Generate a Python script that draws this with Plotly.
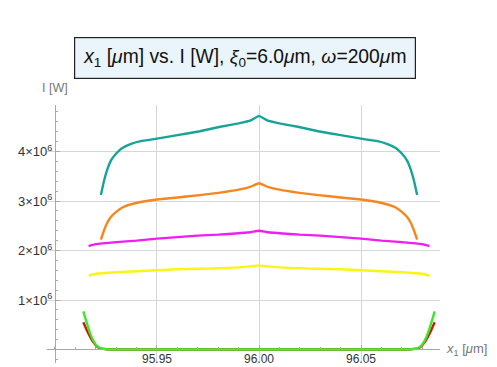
import plotly.graph_objects as go

# ---- data ----
teal_x = [95.9225, 95.9240, 95.9255, 95.9275, 95.9300, 95.9330, 95.9370, 95.9420, 95.9500, 95.9600,
          95.9710, 95.9810, 95.9900, 95.9960, 96.0000, 96.0040, 96.0100, 96.0190, 96.0290, 96.0400,
          96.0500, 96.0580, 96.0630, 96.0670, 96.0700, 96.0725, 96.0745, 96.0760, 96.0775]
teal_y = [3.12, 3.40, 3.62, 3.82, 3.96, 4.07, 4.15, 4.21, 4.26, 4.33,
          4.41, 4.50, 4.57, 4.63, 4.72, 4.63, 4.57, 4.50, 4.41, 4.33,
          4.26, 4.21, 4.15, 4.07, 3.96, 3.82, 3.62, 3.40, 3.12]

orange_x = teal_x
orange_y = [2.22, 2.40, 2.55, 2.68, 2.78, 2.87, 2.93, 2.98, 3.03, 3.07,
            3.12, 3.17, 3.23, 3.29, 3.36, 3.29, 3.23, 3.17, 3.12, 3.07,
            3.03, 2.98, 2.93, 2.87, 2.78, 2.68, 2.55, 2.40, 2.22]

flat_x = [95.9165, 95.9180, 95.9200, 95.9300, 95.9400, 95.9500, 95.9600, 95.9700, 95.9800, 95.9900,
          95.9960, 96.0000, 96.0040, 96.0100, 96.0200, 96.0300, 96.0400, 96.0500, 96.0600, 96.0700,
          96.0800, 96.0820, 96.0835]
magenta_y = [2.09, 2.11, 2.13, 2.17, 2.20, 2.24, 2.27, 2.30, 2.32, 2.35,
             2.37, 2.40, 2.37, 2.35, 2.32, 2.30, 2.27, 2.24, 2.20, 2.17,
             2.13, 2.11, 2.09]
yellow_y = [1.49, 1.51, 1.53, 1.56, 1.58, 1.60, 1.62, 1.63, 1.64, 1.66,
            1.68, 1.70, 1.68, 1.66, 1.64, 1.63, 1.62, 1.60, 1.58, 1.56,
            1.53, 1.51, 1.49]

edge_x = [95.9139, 95.9155, 95.9172, 95.9188, 95.9204, 95.9221, 95.9253, 95.9294, 95.9350, 95.9500,
          96.0000, 96.0500, 96.0650, 96.0706, 96.0747, 96.0779, 96.0796, 96.0812, 96.0828, 96.0845, 96.0861]
red_y = [0.55, 0.40, 0.26, 0.15, 0.07, 0.025, 0.004, 0.0, 0.0, 0.0,
         0.0, 0.0, 0.0, 0.0, 0.004, 0.025, 0.07, 0.15, 0.26, 0.40, 0.55]
green_y = [0.77, 0.55, 0.33, 0.18, 0.08, 0.03, 0.005, 0.0, 0.0, 0.0,
           0.0, 0.0, 0.0, 0.0, 0.005, 0.03, 0.08, 0.18, 0.33, 0.55, 0.77]

scale = 1e6
y_tickvals = [1e6, 2e6, 3e6, 4e6]
y_ticktext = ["1×10<sup>6</sup>", "2×10<sup>6</sup>", "3×10<sup>6</sup>", "4×10<sup>6</sup>"]
x_tickvals = [95.95, 96.00, 96.05]
x_ticktext = ["95.95", "96.00", "96.05"]

x_range = [95.8961, 96.0887]
y_range = [-0.273e6, 4.94e6]
y_axis_at = 95.90

series = [
    (teal_x, teal_y, "rgb(24,163,152)"),
    (orange_x, orange_y, "rgb(245,135,30)"),
    (flat_x, magenta_y, "rgb(240,30,240)"),
    (flat_x, yellow_y, "rgb(250,245,20)"),
    (edge_x, red_y, "rgb(205,25,10)"),
    (edge_x, green_y, "rgb(60,230,40)"),
]

fig = go.Figure()
for xs, ys, col in series:
    fig.add_trace(go.Scatter(
        x=xs, y=[v * scale for v in ys], mode="lines",
        line=dict(color=col, width=2.4, shape="spline", smoothing=0.3),
        showlegend=False, hoverinfo="skip"))

pos_x = (0 - y_range[0]) / (y_range[1] - y_range[0])
pos_y = (y_axis_at - x_range[0]) / (x_range[1] - x_range[0])

# the page body adds an 8px margin, so the figure is 8px smaller in each direction
fig.update_layout(
    width=489, height=359,
    margin=dict(l=39, r=57, t=97, b=4, autoexpand=False),
    paper_bgcolor="white", plot_bgcolor="white",
    font=dict(family="Liberation Sans, Arial, sans-serif", color="#333"),
    xaxis=dict(
        range=x_range, anchor="free", position=pos_x, automargin=False,
        showline=True, linecolor="#a8a8a8", linewidth=1,
        showgrid=True, gridcolor="#d6d6d6", gridwidth=1,
        zeroline=False,
        tickmode="array", tickvals=x_tickvals, ticktext=x_ticktext,
        ticks="inside", ticklen=4, tickcolor="#a8a8a8",
        tickfont=dict(size=12, color="#333"), ticklabelstandoff=-2,
        minor=dict(tickmode="linear", tick0=95.90, dtick=0.01, ticks="inside",
                   ticklen=2.5, tickcolor="#a8a8a8", showgrid=False),
    ),
    yaxis=dict(
        range=y_range, anchor="free", position=pos_y, automargin=False,
        showline=True, linecolor="#a8a8a8", linewidth=1,
        showgrid=True, gridcolor="#d6d6d6", gridwidth=1,
        zeroline=False,
        tickmode="array", tickvals=y_tickvals, ticktext=y_ticktext,
        ticks="inside", ticklen=4, tickcolor="#a8a8a8",
        tickfont=dict(size=13, color="#333"),
        minor=dict(tickmode="linear", tick0=0, dtick=2e5, ticks="inside",
                   ticklen=2.5, tickcolor="#a8a8a8", showgrid=False),
    ),
    annotations=[
        dict(text="<i>x</i><sub>1</sub> [<i>μ</i>m] vs. I [W], <i>ξ</i><sub>0</sub>=6.0<i>μ</i>m, <i>ω</i>=200<i>μ</i>m",
             xref="paper", yref="paper", x=0.503, y=1.0, yshift=47, xanchor="center", yanchor="middle",
             showarrow=False, font=dict(size=19.3, color="#111"),
             bgcolor="#eaf4fb", bordercolor="#222", borderwidth=1.2, borderpad=8),
        dict(text="I [W]", xref="paper", yref="paper", x=0.02, y=1.0, yshift=17,
             xanchor="center", yanchor="middle", showarrow=False,
             font=dict(size=12.5, color="#777")),
        dict(text="<i>x</i><sub>1</sub> [<i>μ</i>m]", xref="paper", yref="paper", x=1.0, xshift=4,
             y=pos_x, xanchor="left", yanchor="middle", showarrow=False,
             font=dict(size=13, color="#777")),
    ],
)

fig.write_html("out.html")
